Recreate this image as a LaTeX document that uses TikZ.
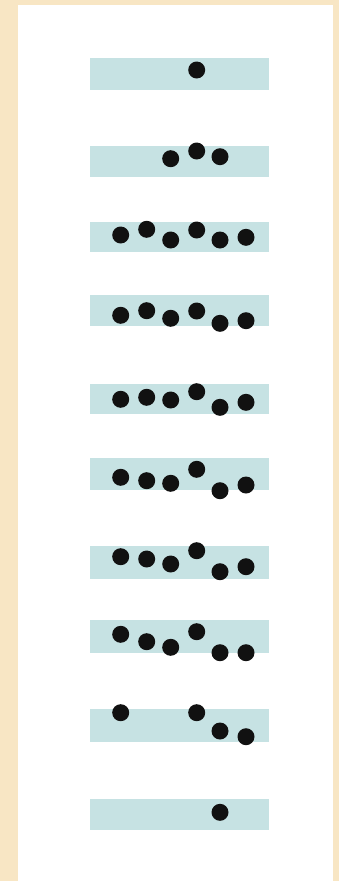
\documentclass[tikz,border=0pt]{standalone}
\definecolor{parch}{HTML}{F8E6C4}
\definecolor{barc}{HTML}{C6E2E3}
\definecolor{dotc}{HTML}{111111}
\tikzset{
  barbox/.style={fill=barc, draw=none},
  dotnode/.style={circle, fill=dotc, draw=none, inner sep=0pt, minimum size=17pt}
}
\begin{document}
\begin{tikzpicture}[x=1pt,y=-1pt]
\fill[parch] (0,0) rectangle (339,881);
\useasboundingbox (0,0) rectangle (339,881);
\fill[white] (18,5) rectangle (333,881);
% bars: top y values
\foreach \t/\b [count=\i] in {57.5/90,146/177,221.7/252.3,295.3/326,384/414.3,457.7/490,546/579,620/652.5,709/741.5,799.3/830}{
  \fill[barbox] (89.5,\t) rectangle (269.3,\b);
}
% row 1
\node[dotnode] (r1a) at (196.7,70) {};
% row 2
\node[dotnode] (r2a) at (170.7,158.7) {};
\node[dotnode] (r2b) at (196.7,151) {};
\node[dotnode] (r2c) at (220,156.7) {};
% rows 3-8 with six dots
\foreach \r/\ya/\yb/\yc/\yd/\ye/\yf in {
  3/235/229.3/240/230/240/237.3,
  4/315.3/310.7/318.3/311/323.3/320.7,
  5/399.3/397.3/400/391.7/407.3/402.3,
  6/477.3/480.7/483.3/469.3/490.7/485,
  7/556.7/559/564/550.7/571.7/566.7,
  8/634.3/641.7/647.3/631.7/652.7/652.7}{
  \node[dotnode] (r\r a) at (120.7,\ya) {};
  \node[dotnode] (r\r b) at (146.7,\yb) {};
  \node[dotnode] (r\r c) at (170.7,\yc) {};
  \node[dotnode] (r\r d) at (196.7,\yd) {};
  \node[dotnode] (r\r e) at (220,\ye) {};
  \node[dotnode] (r\r f) at (246,\yf) {};
}
% row 9
\node[dotnode] (r9a) at (120.7,712.7) {};
\node[dotnode] (r9b) at (196.7,712.7) {};
\node[dotnode] (r9c) at (220,731) {};
\node[dotnode] (r9d) at (246,736.7) {};
% row 10
\node[dotnode] (r10a) at (220,812.3) {};
\end{tikzpicture}
\end{document}
